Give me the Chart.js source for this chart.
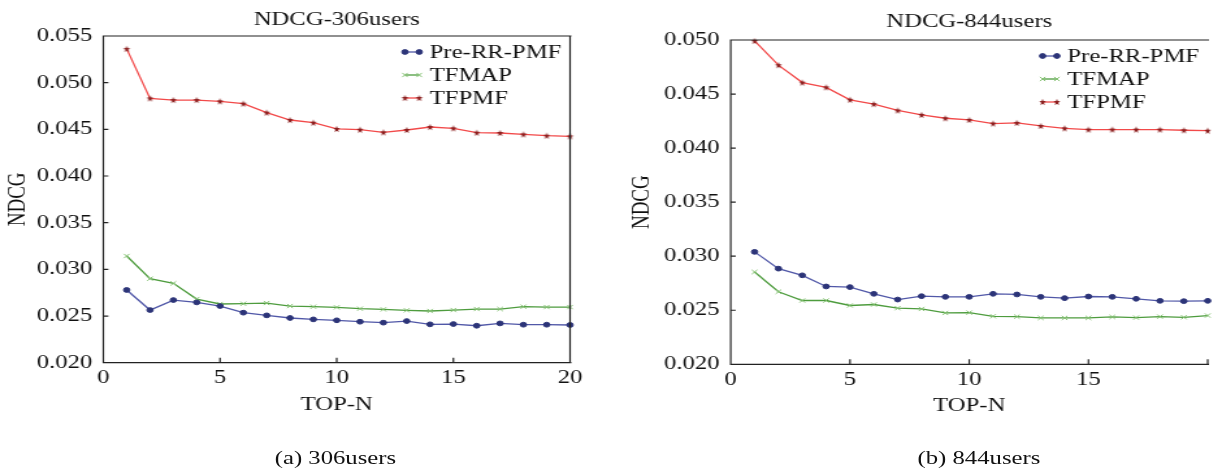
<!DOCTYPE html>
<html>
<head>
<meta charset="utf-8">
<title>NDCG</title>
<script src="https://cdn.jsdelivr.net/npm/chart.js@4.4.1/dist/chart.umd.min.js"></script>
<style>
  html, body { margin: 0; padding: 0; background: #fff; overflow: hidden; }
  /* whole figure is drawn narrow and stretched sideways */
  #page { position: absolute; left: 0; top: 0; width: 934px; height: 472px; transform: scaleX(1.3); transform-origin: 0 0; }
  .box { position: absolute; top: 0; }
  .caption { position: absolute; font: 19px "Liberation Serif", serif; color: #111; transform: translateX(-50%); white-space: nowrap; }
</style>
</head>
<body>
<div id="page">
  <div class="box" style="left:0px"><canvas id="chart306" width="460" height="430"></canvas></div>
  <div class="box" style="left:470px"><canvas id="chart844" width="464" height="430"></canvas></div>
  <div class="caption" style="left:258px;top:447px">(a) 306users</div>
  <div class="caption" style="left:753px;top:447px">(b) 844users</div>
</div>
<script>
const SX = 1.3;

const topN = [1, 2, 3, 4, 5, 6, 7, 8, 9, 10, 11, 12, 13, 14, 15, 16, 17, 18, 19, 20];
const seriesNames = ['Pre-RR-PMF', 'TFMAP', 'TFPMF'];

// 306 users
const pre306 = [0.02779, 0.02564, 0.02671, 0.02646, 0.02607, 0.02536, 0.02507, 0.02479, 0.02464, 0.02454,
                0.02439, 0.02429, 0.02446, 0.02411, 0.02414, 0.02396, 0.02421, 0.02407, 0.02407, 0.02404];
const tfmap306 = [0.03143, 0.02900, 0.02850, 0.02682, 0.02629, 0.02632, 0.02639, 0.02607, 0.02600, 0.02593,
                  0.02579, 0.02571, 0.02561, 0.02554, 0.02564, 0.02575, 0.02575, 0.02600, 0.02596, 0.02596];
const tfpmf306 = [0.05362, 0.04832, 0.04814, 0.04814, 0.04800, 0.04775, 0.04679, 0.04600, 0.04571, 0.04504,
                  0.04496, 0.04468, 0.04493, 0.04525, 0.04511, 0.04464, 0.04461, 0.04446, 0.04432, 0.04425];

// 844 users
const pre844 = [0.03040, 0.02885, 0.02823, 0.02720, 0.02714, 0.02652, 0.02599, 0.02630, 0.02624, 0.02624,
                0.02652, 0.02646, 0.02624, 0.02612, 0.02627, 0.02624, 0.02606, 0.02587, 0.02584, 0.02587];
const tfmap844 = [0.02854, 0.02671, 0.02590, 0.02590, 0.02544, 0.02553, 0.02519, 0.02512, 0.02475, 0.02478,
                  0.02444, 0.02441, 0.02429, 0.02429, 0.02429, 0.02438, 0.02432, 0.02441, 0.02435, 0.02451];
const tfpmf844 = [0.04991, 0.04767, 0.04606, 0.04562, 0.04447, 0.04407, 0.04348, 0.04307, 0.04276, 0.04261,
                  0.04227, 0.04233, 0.04205, 0.04183, 0.04171, 0.04171, 0.04171, 0.04171, 0.04165, 0.04161];

const yTicks306 = [0.020, 0.055];
const yTicks844 = [0.020, 0.050];
const xTicks = [0, 20];

Chart.defaults.font.family = '"Liberation Serif", "Times New Roman", serif';
Chart.defaults.font.size = 19;
Chart.defaults.color = '#111';

// filled five point star, squeezed so it comes out round after the stretch
function starMarker(color) {
  const c = document.createElement('canvas');
  c.width = 8; c.height = 8;
  const g = c.getContext('2d');
  g.fillStyle = color;
  g.beginPath();
  for (let i = 0; i < 10; i++) {
    const r = i % 2 ? 1.5 : 3.6;
    const a = -Math.PI / 2 + i * Math.PI / 5;
    const x = 4 + r * Math.cos(a) / SX, y = 4.3 + r * Math.sin(a);
    i ? g.lineTo(x, y) : g.moveTo(x, y);
  }
  g.closePath();
  g.fill();
  return c;
}
const star = starMarker('#8a1f1f');

const styles = [
  { line: '#5158a8', point: '#2c3478', pointStyle: 'circle', radius: 2.4, borderWidth: 1 },
  { line: '#4e9c3e', point: '#86c274', pointStyle: 'crossRot', radius: 3, borderWidth: 1 },
  { line: '#f24a4a', point: '#8a1f1f', pointStyle: star, radius: 3, borderWidth: 1 }
];

function makeSets(lists) {
  return lists.map((vals, i) => ({
    label: seriesNames[i],
    data: topN.map((n, k) => ({ x: n, y: vals[k] })),
    borderColor: styles[i].line,
    borderWidth: 1.3,
    pointStyle: styles[i].pointStyle,
    pointRadius: styles[i].radius,
    pointBackgroundColor: styles[i].point,
    pointBorderColor: styles[i].point,
    pointBorderWidth: styles[i].borderWidth,
    tension: 0,
    clip: false
  }));
}

// box around the plot, inward ticks and the legend inside the top right corner
const framePlugin = {
  id: 'frame',
  afterDraw(chart, args, opts) {
    const { ctx, chartArea: a, scales } = chart;
    ctx.save();
    ctx.strokeStyle = '#222';
    ctx.lineWidth = 1.2;
    ctx.beginPath();
    if (opts.right) {
      ctx.moveTo(a.right, a.top); ctx.lineTo(a.right, a.bottom);
    }
    ctx.moveTo(a.right + 1, a.top); ctx.lineTo(a.left, a.top); ctx.lineTo(a.left, a.bottom); ctx.lineTo(a.right + 1, a.bottom);
    scales.x.ticks.forEach(t => {
      const px = scales.x.getPixelForValue(t.value);
      ctx.moveTo(px, a.bottom); ctx.lineTo(px, a.bottom - 5);
    });
    scales.y.ticks.forEach(t => {
      const py = scales.y.getPixelForValue(t.value);
      ctx.moveTo(a.left, py); ctx.lineTo(a.left + 5 / SX, py);
    });
    ctx.stroke();

    ctx.font = '19px "Liberation Serif", serif';
    ctx.textBaseline = 'middle';
    ctx.fillStyle = '#111';
    chart.data.datasets.forEach((ds, i) => {
      const y = a.top + opts.rows[i];
      const x0 = a.right - 127, x1 = a.right - 116;
      ctx.strokeStyle = ds.borderColor;
      ctx.lineWidth = 1.3;
      ctx.beginPath(); ctx.moveTo(x0, y); ctx.lineTo(x1, y); ctx.stroke();
      ctx.fillStyle = ds.pointBackgroundColor;
      ctx.strokeStyle = ds.pointBorderColor;
      ctx.lineWidth = ds.pointBorderWidth;
      [x0, x1].forEach(x => Chart.helpers.drawPoint(ctx, {
        pointStyle: ds.pointStyle, radius: ds.pointRadius, borderWidth: ds.pointBorderWidth, rotation: 0
      }, x, y));
      ctx.fillStyle = '#111';
      ctx.fillText(ds.label, a.right - 108, y + 1);
    });
    ctx.restore();
  }
};

function makeChart(id, o) {
  return new Chart(document.getElementById(id), {
    type: 'line',
    data: { datasets: makeSets(o.lists) },
    options: {
      responsive: false,
      animation: false,
      events: [],
      layout: { padding: { left: 0, right: o.padRight, top: 0, bottom: o.padBottom } },
      plugins: {
        legend: { display: false },
        tooltip: { enabled: false },
        title: {
          display: true, fullSize: false, text: o.title,
          font: { size: 19, weight: 'normal' }, color: '#111',
          padding: { top: o.titleTop, bottom: o.titleBottom }
        },
        frame: { right: o.rightBorder, rows: [16, 39, 62] }
      },
      scales: {
        x: {
          type: 'linear', min: xTicks[0], max: xTicks[1],
          grid: { display: false, drawTicks: false },
          border: { display: false },
          ticks: { stepSize: 5, padding: 4, maxRotation: 0, callback: v => (v > o.lastXLabel ? '' : v) },
          title: { display: true, text: 'TOP-N', font: { size: 19 }, padding: { top: 0, bottom: o.xTitlePad } },
          afterFit: s => { s.height = 55; }
        },
        y: {
          min: o.yRange[0], max: o.yRange[1],
          grid: { display: false, drawTicks: false },
          border: { display: false },
          ticks: { stepSize: 0.005, padding: 8.5, callback: v => v.toFixed(3) },
          title: { display: true, text: 'NDCG', font: { size: 19 }, padding: { top: o.yTitlePad, bottom: 0 } },
          afterFit: s => { s.width = o.yWidth; }
        }
      }
    },
    plugins: [framePlugin]
  });
}

makeChart('chart306', {
  lists: [pre306, tfmap306, tfpmf306],
  title: 'NDCG-306users', yRange: yTicks306,
  padRight: 21.5, padBottom: 12.3, titleTop: 9.1, titleBottom: 4.1,
  yWidth: 79.5, yTitlePad: 2.8, xTitlePad: 1.3, lastXLabel: 20, rightBorder: true
});

makeChart('chart844', {
  lists: [pre844, tfmap844, tfpmf844],
  title: 'NDCG-844users', yRange: yTicks844,
  padRight: 1.2, padBottom: 10.7, titleTop: 11.1, titleBottom: 6.1,
  yWidth: 92.1, yTitlePad: 12.2, xTitlePad: 1.9, lastXLabel: 15, rightBorder: false
});
</script>
</body>
</html>
